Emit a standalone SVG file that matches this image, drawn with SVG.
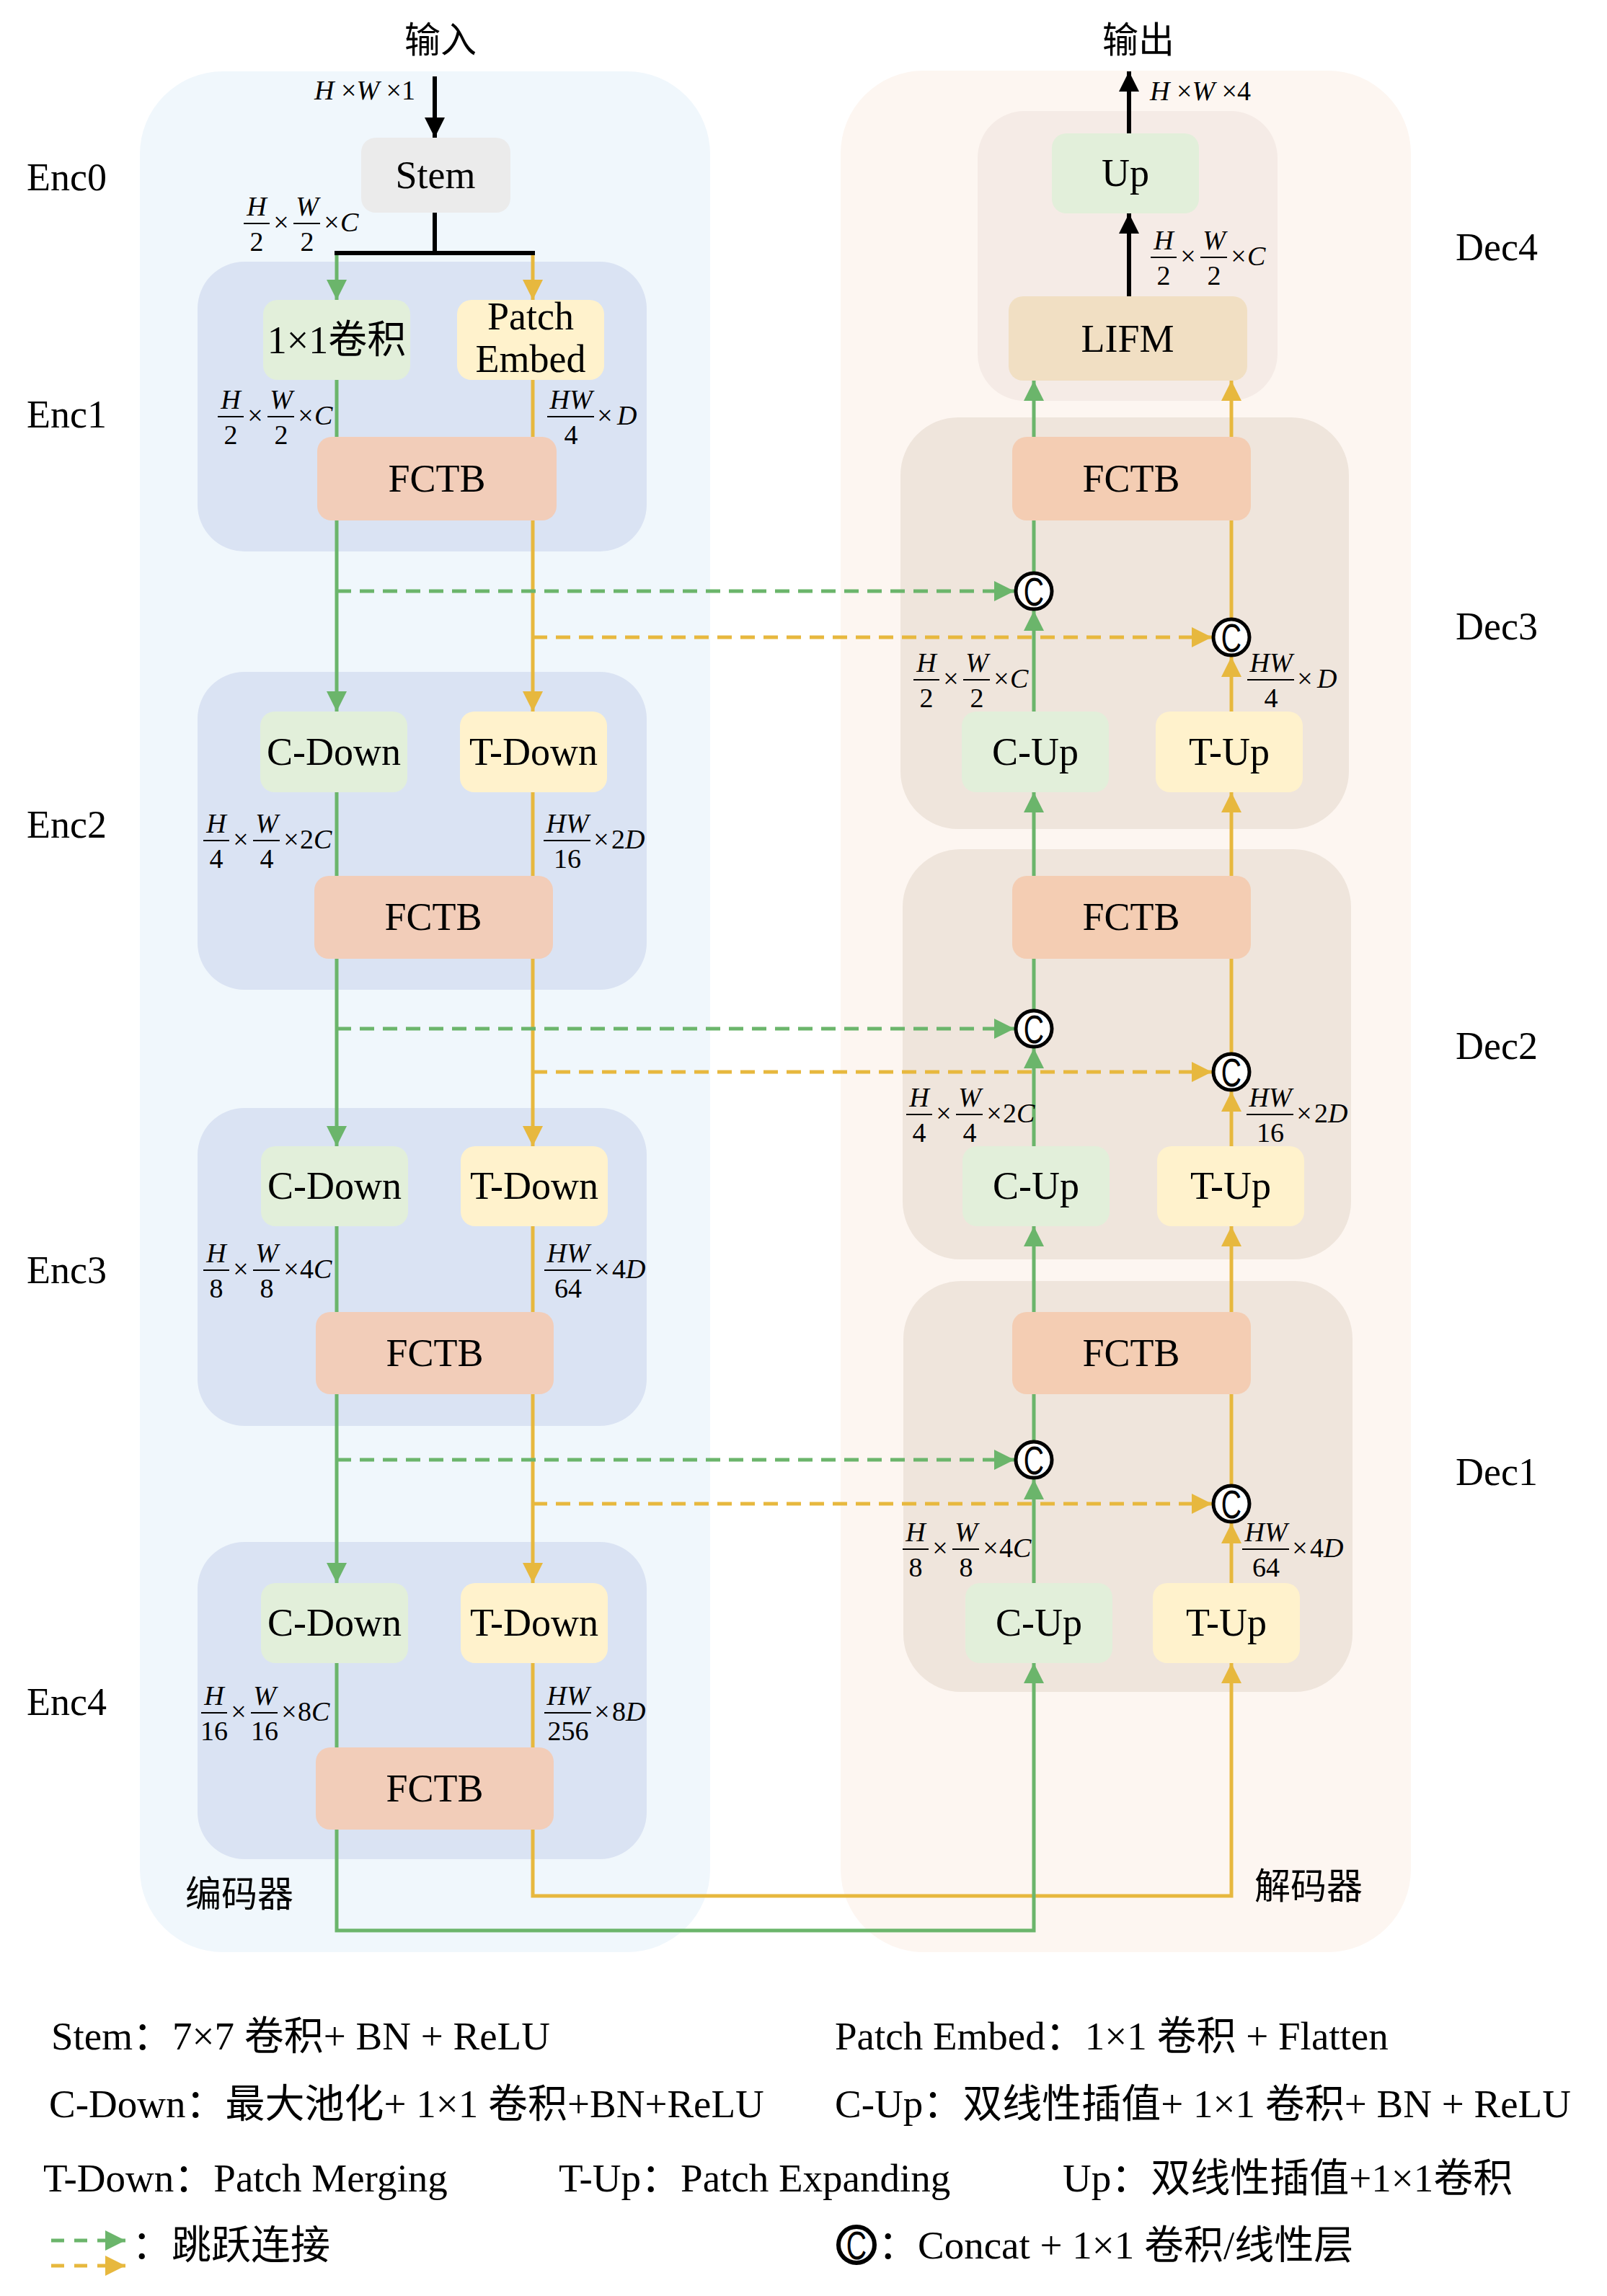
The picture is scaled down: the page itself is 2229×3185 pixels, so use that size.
<svg xmlns="http://www.w3.org/2000/svg" width="2229" height="3185" viewBox="0 0 2229 3185">
<defs>
<style>
.t{font-family:"Liberation Serif","Noto Sans CJK SC",serif;font-size:54px;fill:#000;text-anchor:middle}
.lab{font-family:"Liberation Serif","Noto Sans CJK SC",serif;font-size:54px;fill:#000}
.cjk{font-family:"Noto Sans CJK SC",sans-serif;font-size:50px;fill:#000}
.leg{font-family:"Liberation Serif","Noto Sans CJK SC",serif;font-size:55px;fill:#000}
.m{font-family:"Liberation Serif",serif;font-size:38px;fill:#000}
.mc{text-anchor:middle}
.i{font-style:italic}
.fb{stroke:#000;stroke-width:2}
.g{stroke:#6bb56b;stroke-width:5;fill:none}
.o{stroke:#e7b83e;stroke-width:5;fill:none}
.k{stroke:#000;stroke-width:6;fill:none}
.dash{stroke-dasharray:20 12}
.ldash{stroke-dasharray:18 14}
.gb{fill:#e2efda}
.yb{fill:#fff2cc}
.fe{fill:#f2cdb9}
.fd{fill:#f4cdb3}
.cc{fill:#fff;stroke:#000;stroke-width:5}
.ct{font-family:"Liberation Sans",sans-serif;font-size:56px;fill:#000;text-anchor:middle}
</style>
<marker id="ag" viewBox="0 0 28 28" refX="28" refY="14" markerWidth="28" markerHeight="28" markerUnits="userSpaceOnUse" orient="auto"><path d="M0,0 L28,14 L0,28 z" fill="#6bb56b"/></marker>
<marker id="ao" viewBox="0 0 28 28" refX="28" refY="14" markerWidth="28" markerHeight="28" markerUnits="userSpaceOnUse" orient="auto"><path d="M0,0 L28,14 L0,28 z" fill="#e7b83e"/></marker>
<marker id="ak" viewBox="0 0 28 28" refX="28" refY="14" markerWidth="28" markerHeight="28" markerUnits="userSpaceOnUse" orient="auto"><path d="M0,0 L28,14 L0,28 z" fill="#000"/></marker>
</defs>
<rect width="2229" height="3185" fill="#fff"/>

<!-- panels -->
<g id="panels">
<rect x="194" y="99" width="791" height="2609" rx="115" fill="#f0f7fc"/>
<rect x="1166" y="98" width="791" height="2610" rx="115" fill="#fdf6f1"/>
<rect x="274" y="363" width="623" height="402" rx="65" fill="#dae3f3"/>
<rect x="274" y="932" width="623" height="441" rx="65" fill="#dae3f3"/>
<rect x="274" y="1537" width="623" height="441" rx="65" fill="#dae3f3"/>
<rect x="274" y="2139" width="623" height="440" rx="65" fill="#dae3f3"/>
<rect x="1356" y="154" width="416" height="402" rx="65" fill="#f5ebe6"/>
<rect x="1249" y="579" width="622" height="571" rx="80" fill="#efe5dc"/>
<rect x="1252" y="1178" width="622" height="569" rx="80" fill="#efe5dc"/>
<rect x="1253" y="1777" width="623" height="570" rx="80" fill="#efe5dc"/>
</g>

<!-- titles and stage labels -->
<g id="labels">
<text class="cjk" x="611" y="73" text-anchor="middle" font-size="52">输入</text>
<text class="cjk" x="1579" y="73" text-anchor="middle" font-size="52">输出</text>
<text class="lab" x="37" y="264">Enc0</text>
<text class="lab" x="37" y="593">Enc1</text>
<text class="lab" x="37" y="1162">Enc2</text>
<text class="lab" x="37" y="1780">Enc3</text>
<text class="lab" x="37" y="2379">Enc4</text>
<text class="lab" x="2019" y="361">Dec4</text>
<text class="lab" x="2019" y="887">Dec3</text>
<text class="lab" x="2019" y="1469">Dec2</text>
<text class="lab" x="2019" y="2060">Dec1</text>
<text class="cjk" x="257" y="2645" font-size="52">编码器</text>
<text class="cjk" x="1740" y="2634" font-size="52">解码器</text>
</g>

<!-- connectors -->
<g id="connectors">
<path class="g" d="M467,351 V416" marker-end="url(#ag)"/>
<path class="o" d="M739,351 V416" marker-end="url(#ao)"/>
<path class="g" d="M467,527 V606"/>
<path class="o" d="M739,527 V606"/>
<path class="g" d="M467,722 V987" marker-end="url(#ag)"/>
<path class="o" d="M739,722 V987" marker-end="url(#ao)"/>
<path class="g" d="M467,1099 V1215"/>
<path class="o" d="M739,1099 V1215"/>
<path class="g" d="M467,1330 V1590" marker-end="url(#ag)"/>
<path class="o" d="M739,1330 V1590" marker-end="url(#ao)"/>
<path class="g" d="M467,1701 V1820"/>
<path class="o" d="M739,1701 V1820"/>
<path class="g" d="M467,1934 V2196" marker-end="url(#ag)"/>
<path class="o" d="M739,1934 V2196" marker-end="url(#ao)"/>
<path class="g" d="M467,2307 V2424"/>
<path class="o" d="M739,2307 V2424"/>
<path class="o" d="M739,2538 V2630 H1708 V2307" marker-end="url(#ao)"/>
<path class="g" d="M467,2538 V2678 H1434 V2307" marker-end="url(#ag)"/>
<!-- decoder -->
<path class="g" d="M1434,2196 V2052" marker-end="url(#ag)"/>
<path class="o" d="M1708,2196 V2113" marker-end="url(#ao)"/>
<path class="g" d="M1434,1998 V1934"/>
<path class="o" d="M1708,2059 V1934"/>
<path class="g" d="M1434,1820 V1701" marker-end="url(#ag)"/>
<path class="o" d="M1708,1820 V1701" marker-end="url(#ao)"/>
<path class="g" d="M1434,1590 V1454" marker-end="url(#ag)"/>
<path class="o" d="M1708,1590 V1514" marker-end="url(#ao)"/>
<path class="g" d="M1434,1400 V1330"/>
<path class="o" d="M1708,1460 V1330"/>
<path class="g" d="M1434,1215 V1099" marker-end="url(#ag)"/>
<path class="o" d="M1708,1215 V1099" marker-end="url(#ao)"/>
<path class="g" d="M1434,987 V847" marker-end="url(#ag)"/>
<path class="o" d="M1708,987 V911" marker-end="url(#ao)"/>
<path class="g" d="M1434,793 V722"/>
<path class="o" d="M1708,857 V722"/>
<path class="g" d="M1434,606 V528" marker-end="url(#ag)"/>
<path class="o" d="M1708,606 V528" marker-end="url(#ao)"/>
<!-- skip connections -->
<path class="g dash" d="M467,820 H1407" marker-end="url(#ag)"/>
<path class="o dash" d="M739,884 H1681" marker-end="url(#ao)"/>
<path class="g dash" d="M467,1427 H1407" marker-end="url(#ag)"/>
<path class="o dash" d="M739,1487 H1681" marker-end="url(#ao)"/>
<path class="g dash" d="M467,2025 H1407" marker-end="url(#ag)"/>
<path class="o dash" d="M739,2086 H1681" marker-end="url(#ao)"/>
<!-- black -->
<path class="k" d="M603,106 V191" marker-end="url(#ak)"/>
<path class="k" d="M603,295 V351 M464,351 H742"/>
<path class="k" d="M1566,411 V296" marker-end="url(#ak)"/>
<path class="k" d="M1566,185 V99" marker-end="url(#ak)"/>
</g>

<!-- encoder nodes -->
<g id="stem"><rect x="501" y="191" width="207" height="104" rx="20" fill="#ebebeb"/><text class="t" x="604" y="261">Stem</text></g>
<g id="conv1x1"><rect x="365" y="416" width="204" height="111" rx="20" class="gb"/><text class="t" x="467" y="490" font-size="52">1×1卷积</text></g>
<g id="patch-embed"><rect x="634" y="416" width="204" height="111" rx="20" class="yb"/><text class="t" x="736" y="457" font-size="50">Patch</text><text class="t" x="736" y="516" font-size="50">Embed</text></g>
<g id="enc1-fctb"><rect x="440" y="606" width="332" height="116" rx="20" class="fe"/><text class="t" x="606" y="682">FCTB</text></g>
<g id="enc2-cdown"><rect x="361" y="987" width="204" height="112" rx="20" class="gb"/><text class="t" x="463" y="1061">C-Down</text></g>
<g id="enc2-tdown"><rect x="638" y="987" width="204" height="112" rx="20" class="yb"/><text class="t" x="740" y="1061">T-Down</text></g>
<g id="enc2-fctb"><rect x="436" y="1215" width="331" height="115" rx="20" class="fe"/><text class="t" x="601" y="1290">FCTB</text></g>
<g id="enc3-cdown"><rect x="362" y="1590" width="204" height="111" rx="20" class="gb"/><text class="t" x="464" y="1663">C-Down</text></g>
<g id="enc3-tdown"><rect x="639" y="1590" width="204" height="111" rx="20" class="yb"/><text class="t" x="741" y="1663">T-Down</text></g>
<g id="enc3-fctb"><rect x="438" y="1820" width="330" height="114" rx="20" class="fe"/><text class="t" x="603" y="1895">FCTB</text></g>
<g id="enc4-cdown"><rect x="362" y="2196" width="204" height="111" rx="20" class="gb"/><text class="t" x="464" y="2269">C-Down</text></g>
<g id="enc4-tdown"><rect x="639" y="2196" width="204" height="111" rx="20" class="yb"/><text class="t" x="741" y="2269">T-Down</text></g>
<g id="enc4-fctb"><rect x="438" y="2424" width="330" height="114" rx="20" class="fe"/><text class="t" x="603" y="2499">FCTB</text></g>

<!-- decoder nodes -->
<g id="up"><rect x="1459" y="185" width="204" height="111" rx="20" class="gb"/><text class="t" x="1561" y="258">Up</text></g>
<g id="lifm"><rect x="1399" y="411" width="331" height="117" rx="20" fill="#f1dfc3"/><text class="t" x="1564" y="488">LIFM</text></g>
<g id="dec3-fctb"><rect x="1404" y="606" width="331" height="116" rx="20" class="fd"/><text class="t" x="1569" y="682">FCTB</text></g>
<g id="dec3-cup"><rect x="1334" y="987" width="204" height="112" rx="20" class="gb"/><text class="t" x="1436" y="1061">C-Up</text></g>
<g id="dec3-tup"><rect x="1603" y="987" width="204" height="112" rx="20" class="yb"/><text class="t" x="1705" y="1061">T-Up</text></g>
<g id="dec2-fctb"><rect x="1404" y="1215" width="331" height="115" rx="20" class="fd"/><text class="t" x="1569" y="1290">FCTB</text></g>
<g id="dec2-cup"><rect x="1335" y="1590" width="204" height="111" rx="20" class="gb"/><text class="t" x="1437" y="1663">C-Up</text></g>
<g id="dec2-tup"><rect x="1605" y="1590" width="204" height="111" rx="20" class="yb"/><text class="t" x="1707" y="1663">T-Up</text></g>
<g id="dec1-fctb"><rect x="1404" y="1820" width="331" height="114" rx="20" class="fd"/><text class="t" x="1569" y="1895">FCTB</text></g>
<g id="dec1-cup"><rect x="1339" y="2196" width="204" height="111" rx="20" class="gb"/><text class="t" x="1441" y="2269">C-Up</text></g>
<g id="dec1-tup"><rect x="1599" y="2196" width="204" height="111" rx="20" class="yb"/><text class="t" x="1701" y="2269">T-Up</text></g>

<!-- concat nodes -->
<g id="cat3g"><circle class="cc" cx="1434" cy="820" r="25"/><text class="ct" transform="translate(1434,840) scale(0.7,1)">C</text></g>
<g id="cat3o"><circle class="cc" cx="1708" cy="884" r="25"/><text class="ct" transform="translate(1708,904) scale(0.7,1)">C</text></g>
<g id="cat2g"><circle class="cc" cx="1434" cy="1427" r="25"/><text class="ct" transform="translate(1434,1447) scale(0.7,1)">C</text></g>
<g id="cat2o"><circle class="cc" cx="1708" cy="1487" r="25"/><text class="ct" transform="translate(1708,1507) scale(0.7,1)">C</text></g>
<g id="cat1g"><circle class="cc" cx="1434" cy="2025" r="25"/><text class="ct" transform="translate(1434,2045) scale(0.7,1)">C</text></g>
<g id="cat1o"><circle class="cc" cx="1708" cy="2086" r="25"/><text class="ct" transform="translate(1708,2106) scale(0.7,1)">C</text></g>

<!-- dimension labels -->
<g id="dims">
<text class="m" x="436" y="138"><tspan class="i">H</tspan> ×<tspan class="i">W</tspan> ×1</text>
<text class="m" x="1595" y="139"><tspan class="i">H</tspan> ×<tspan class="i">W</tspan> ×4</text>

<g transform="translate(338,310)"><line class="fb" x1="0" x2="36" y1="0" y2="0"/><text class="m i mc" x="18" y="-11">H</text><text class="m mc" x="18" y="38">2</text><text class="m mc" x="52" y="11">×</text><line class="fb" x1="69" x2="106" y1="0" y2="0"/><text class="m i mc" x="88" y="-11">W</text><text class="m mc" x="88" y="38">2</text><text class="m mc" x="122" y="11">×</text><text class="m" x="134" y="11"><tspan class="i">C</tspan></text></g>
<g transform="translate(302,578)"><line class="fb" x1="0" x2="36" y1="0" y2="0"/><text class="m i mc" x="18" y="-11">H</text><text class="m mc" x="18" y="38">2</text><text class="m mc" x="52" y="11">×</text><line class="fb" x1="69" x2="106" y1="0" y2="0"/><text class="m i mc" x="88" y="-11">W</text><text class="m mc" x="88" y="38">2</text><text class="m mc" x="122" y="11">×</text><text class="m" x="134" y="11"><tspan class="i">C</tspan></text></g>
<g transform="translate(282,1166)"><line class="fb" x1="0" x2="36" y1="0" y2="0"/><text class="m i mc" x="18" y="-11">H</text><text class="m mc" x="18" y="38">4</text><text class="m mc" x="52" y="11">×</text><line class="fb" x1="69" x2="106" y1="0" y2="0"/><text class="m i mc" x="88" y="-11">W</text><text class="m mc" x="88" y="38">4</text><text class="m mc" x="122" y="11">×</text><text class="m" x="134" y="11">2<tspan class="i">C</tspan></text></g>
<g transform="translate(282,1762)"><line class="fb" x1="0" x2="36" y1="0" y2="0"/><text class="m i mc" x="18" y="-11">H</text><text class="m mc" x="18" y="38">8</text><text class="m mc" x="52" y="11">×</text><line class="fb" x1="69" x2="106" y1="0" y2="0"/><text class="m i mc" x="88" y="-11">W</text><text class="m mc" x="88" y="38">8</text><text class="m mc" x="122" y="11">×</text><text class="m" x="134" y="11">4<tspan class="i">C</tspan></text></g>
<g transform="translate(279,2376)"><line class="fb" x1="0" x2="36" y1="0" y2="0"/><text class="m i mc" x="18" y="-11">H</text><text class="m mc" x="18" y="38">16</text><text class="m mc" x="52" y="11">×</text><line class="fb" x1="69" x2="106" y1="0" y2="0"/><text class="m i mc" x="88" y="-11">W</text><text class="m mc" x="88" y="38">16</text><text class="m mc" x="122" y="11">×</text><text class="m" x="134" y="11">8<tspan class="i">C</tspan></text></g>
<g transform="translate(759,578)"><line class="fb" x1="0" x2="65" y1="0" y2="0"/><text class="m i mc" x="33" y="-11">HW</text><text class="m mc" x="33" y="38">4</text><text class="m mc" x="80" y="11">×</text><text class="m" x="97" y="11"><tspan class="i">D</tspan></text></g>
<g transform="translate(754,1166)"><line class="fb" x1="0" x2="65" y1="0" y2="0"/><text class="m i mc" x="33" y="-11">HW</text><text class="m mc" x="33" y="38">16</text><text class="m mc" x="80" y="11">×</text><text class="m" x="94" y="11">2<tspan class="i">D</tspan></text></g>
<g transform="translate(755,1762)"><line class="fb" x1="0" x2="65" y1="0" y2="0"/><text class="m i mc" x="33" y="-11">HW</text><text class="m mc" x="33" y="38">64</text><text class="m mc" x="80" y="11">×</text><text class="m" x="94" y="11">4<tspan class="i">D</tspan></text></g>
<g transform="translate(755,2376)"><line class="fb" x1="0" x2="65" y1="0" y2="0"/><text class="m i mc" x="33" y="-11">HW</text><text class="m mc" x="33" y="38">256</text><text class="m mc" x="80" y="11">×</text><text class="m" x="94" y="11">8<tspan class="i">D</tspan></text></g>
<g transform="translate(1596,357)"><line class="fb" x1="0" x2="36" y1="0" y2="0"/><text class="m i mc" x="18" y="-11">H</text><text class="m mc" x="18" y="38">2</text><text class="m mc" x="52" y="11">×</text><line class="fb" x1="69" x2="106" y1="0" y2="0"/><text class="m i mc" x="88" y="-11">W</text><text class="m mc" x="88" y="38">2</text><text class="m mc" x="122" y="11">×</text><text class="m" x="134" y="11"><tspan class="i">C</tspan></text></g>
<g transform="translate(1267,943)"><line class="fb" x1="0" x2="36" y1="0" y2="0"/><text class="m i mc" x="18" y="-11">H</text><text class="m mc" x="18" y="38">2</text><text class="m mc" x="52" y="11">×</text><line class="fb" x1="69" x2="106" y1="0" y2="0"/><text class="m i mc" x="88" y="-11">W</text><text class="m mc" x="88" y="38">2</text><text class="m mc" x="122" y="11">×</text><text class="m" x="134" y="11"><tspan class="i">C</tspan></text></g>
<g transform="translate(1257,1546)"><line class="fb" x1="0" x2="36" y1="0" y2="0"/><text class="m i mc" x="18" y="-11">H</text><text class="m mc" x="18" y="38">4</text><text class="m mc" x="52" y="11">×</text><line class="fb" x1="69" x2="106" y1="0" y2="0"/><text class="m i mc" x="88" y="-11">W</text><text class="m mc" x="88" y="38">4</text><text class="m mc" x="122" y="11">×</text><text class="m" x="134" y="11">2<tspan class="i">C</tspan></text></g>
<g transform="translate(1252,2149)"><line class="fb" x1="0" x2="36" y1="0" y2="0"/><text class="m i mc" x="18" y="-11">H</text><text class="m mc" x="18" y="38">8</text><text class="m mc" x="52" y="11">×</text><line class="fb" x1="69" x2="106" y1="0" y2="0"/><text class="m i mc" x="88" y="-11">W</text><text class="m mc" x="88" y="38">8</text><text class="m mc" x="122" y="11">×</text><text class="m" x="134" y="11">4<tspan class="i">C</tspan></text></g>
<g transform="translate(1730,943)"><line class="fb" x1="0" x2="65" y1="0" y2="0"/><text class="m i mc" x="33" y="-11">HW</text><text class="m mc" x="33" y="38">4</text><text class="m mc" x="80" y="11">×</text><text class="m" x="97" y="11"><tspan class="i">D</tspan></text></g>
<g transform="translate(1729,1546)"><line class="fb" x1="0" x2="65" y1="0" y2="0"/><text class="m i mc" x="33" y="-11">HW</text><text class="m mc" x="33" y="38">16</text><text class="m mc" x="80" y="11">×</text><text class="m" x="94" y="11">2<tspan class="i">D</tspan></text></g>
<g transform="translate(1723,2149)"><line class="fb" x1="0" x2="65" y1="0" y2="0"/><text class="m i mc" x="33" y="-11">HW</text><text class="m mc" x="33" y="38">64</text><text class="m mc" x="80" y="11">×</text><text class="m" x="94" y="11">4<tspan class="i">D</tspan></text></g>
</g>

<!-- legend -->
<g id="legend">
<text class="leg" x="71" y="2843">Stem：7×7 卷积+ BN + ReLU</text>
<text class="leg" x="1158" y="2843">Patch Embed：1×1 卷积 + Flatten</text>
<text class="leg" x="68" y="2937">C-Down：最大池化+ 1×1 卷积+BN+ReLU</text>
<text class="leg" x="1158" y="2937">C-Up：双线性插值+ 1×1 卷积+ BN + ReLU</text>
<text class="leg" x="60" y="3040">T-Down：Patch Merging</text>
<text class="leg" x="775" y="3040">T-Up：Patch Expanding</text>
<text class="leg" x="1474" y="3040">Up：双线性插值+1×1卷积</text>
<path class="g ldash" d="M71,3108 H174" marker-end="url(#ag)"/>
<path class="o ldash" d="M71,3143 H174" marker-end="url(#ao)"/>
<text class="leg" x="183" y="3133">：跳跃连接</text>
<circle cx="1188" cy="3114" r="25" fill="#fff" stroke="#000" stroke-width="6"/><text class="ct" transform="translate(1188,3134) scale(0.7,1)">C</text>
<text class="leg" x="1218" y="3133">：Concat + 1×1 卷积/线性层</text>
</g>
</svg>
